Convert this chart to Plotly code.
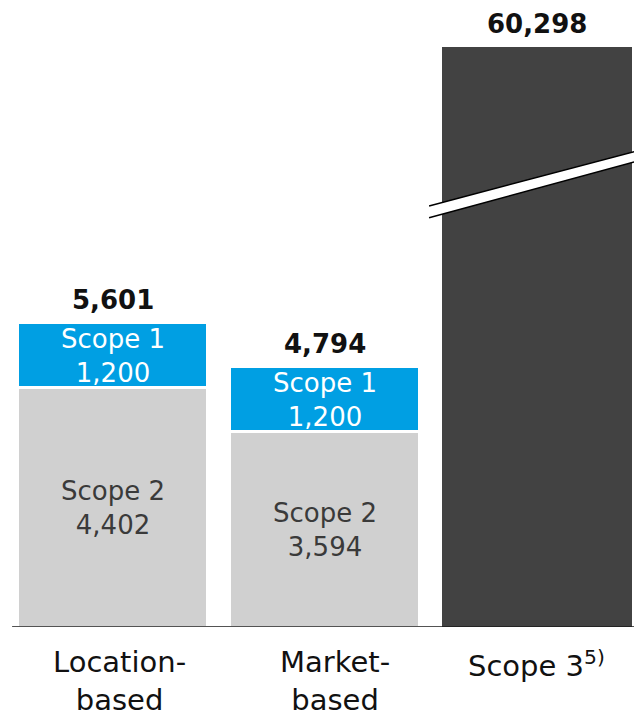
import plotly.graph_objects as go

# ---- data ----
categories = ["Location-based", "Market-based", "Scope 3"]
cat_labels = ["Location-<br>based", "Market-<br>based", "Scope 3<sup>5)</sup>"]
scope2 = [4402, 3594, None]
scope1 = [1200, 1200, None]
scope3 = [None, None, 60298]
totals = [5601, 4794, 60298]

x = [0, 1, 2]
YMAX = 10679  # visible axis top (Scope 3 bar is broken)

FONT = "DejaVu Sans"
BLUE = "#009fe3"
GREY = "#d0d0d0"
DARK = "#424242"

fig = go.Figure()
fig.add_trace(go.Bar(x=x, y=scope2, marker=dict(color=GREY, line=dict(color="white", width=3)),
                     hoverinfo="skip"))
fig.add_trace(go.Bar(x=x, y=scope1, marker=dict(color=BLUE, line=dict(color="white", width=3)),
                     hoverinfo="skip"))
fig.add_trace(go.Bar(x=x, y=scope3, marker=dict(color=DARK, line=dict(width=0)),
                     hoverinfo="skip"))

ann = []
# segment labels
for i in range(2):
    ann.append(dict(x=x[i], y=scope2[i] / 2, xref="x", yref="y",
                    text=f"Scope 2<br>{scope2[i]:,}", showarrow=False, yshift=-1,
                    font=dict(family=FONT, size=26, color="#3a3a3a")))
    ann.append(dict(x=x[i], y=scope2[i] + scope1[i] / 2, xref="x", yref="y",
                    text=f"Scope 1<br>{scope1[i]:,}", showarrow=False, yshift=-1,
                    font=dict(family=FONT, size=26, color="white")))
# totals
for i in range(3):
    ann.append(dict(x=x[i], y=min(totals[i], YMAX), xref="x", yref="y",
                    text=f"<b>{totals[i]:,}</b>", showarrow=False,
                    yanchor="middle", yshift=23,
                    font=dict(family=FONT, size=26, color="#111111")))
# category labels
shifts = [7, 10, 0]
for i in range(3):
    ann.append(dict(x=x[i], y=0, xref="x", yref="paper", text=cat_labels[i],
                    showarrow=False, yanchor="top", yshift=-16, xshift=shifts[i],
                    font=dict(family=FONT, size=29, color="#111111")))

# axis-break decoration on Scope 3 bar (x in axis units, y in axis units)
bx0, bx1 = 1.4915, 2.4585
up0, up1 = 7752, 8752
lo0, lo1 = 7536, 8562
shapes = [
    dict(type="path", xref="x", yref="y",
         path=f"M {bx0},{up0} L {bx1},{up1} L {bx1},{lo1} L {bx0},{lo0} Z",
         fillcolor="white", line=dict(width=0)),
    dict(type="line", xref="x", yref="y", x0=bx0, y0=up0, x1=bx1, y1=up1,
         line=dict(color="black", width=1.5)),
    dict(type="line", xref="x", yref="y", x0=bx0, y0=lo0, x1=bx1, y1=lo1,
         line=dict(color="black", width=1.5)),
    dict(type="line", xref="x", yref="y", x0=-0.475, y0=0, x1=2.4585, y1=0,
         line=dict(color="#1a1a1a", width=1.5)),
]

fig.update_layout(
    barmode="stack",
    bargap=0.104,
    width=634, height=719,
    margin=dict(l=0, r=0, t=47, b=92, pad=0),
    paper_bgcolor="white", plot_bgcolor="white",
    showlegend=False,
    xaxis=dict(range=[-0.532, 2.458], showticklabels=False, showgrid=False,
               zeroline=False, showline=False, fixedrange=True),
    yaxis=dict(range=[0, YMAX], showticklabels=False, showgrid=False,
               zeroline=False, showline=False, fixedrange=True),
    annotations=ann,
    shapes=shapes,
)

fig.write_html("out.html", config={"displayModeBar": False})
